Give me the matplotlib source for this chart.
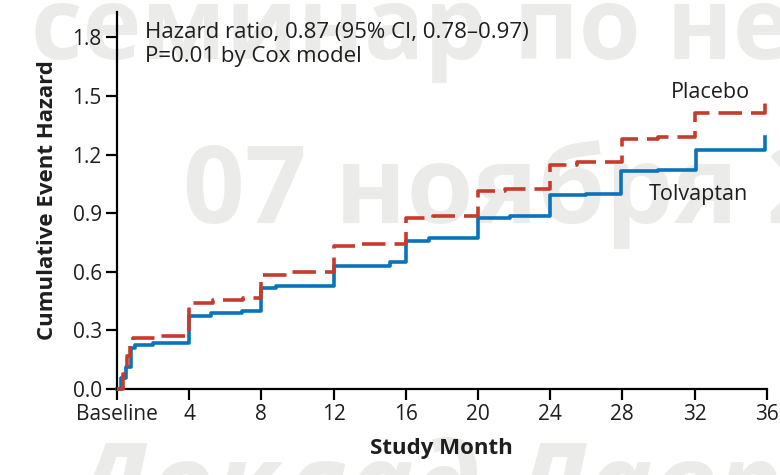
import matplotlib
matplotlib.use("Agg")
import matplotlib.pyplot as plt

# cumulative hazard steps
placebo_t = [0, 0.35, 0.55, 0.7, 0.9, 2.2, 4.0, 5.3, 7.0, 8.0, 9.6, 12.0, 13.6,
             16.0, 17.5, 20.0, 21.5, 24.0, 25.5, 28.0, 30.0, 32.0, 35.9]
placebo_v = [0, 0.075, 0.17, 0.245, 0.262, 0.27, 0.44, 0.455, 0.465, 0.585, 0.60, 0.73, 0.74,
             0.875, 0.885, 1.015, 1.025, 1.145, 1.16, 1.28, 1.29, 1.415, 1.49]

tolvaptan_t = [0, 0.2, 0.5, 0.8, 1.0, 2.0, 4.0, 5.2, 6.9, 8.0, 8.8, 12.0, 15.1,
               16.0, 17.3, 20.0, 21.8, 24.0, 26.0, 27.9, 30.0, 32.1, 35.9]
tolvaptan_v = [0, 0.055, 0.115, 0.21, 0.226, 0.237, 0.375, 0.39, 0.40, 0.516, 0.525, 0.63, 0.648,
               0.755, 0.774, 0.877, 0.887, 0.995, 1.0, 1.114, 1.12, 1.222, 1.29]

x_ticks = [0, 4, 8, 12, 16, 20, 24, 28, 32, 36]
x_labels = ["Baseline", "4", "8", "12", "16", "20", "24", "28", "32", "36"]
y_ticks = [0.0, 0.3, 0.6, 0.9, 1.2, 1.5, 1.8]

red = "#c63b2b"
blue = "#0b73bb"
ink = "#1e1e1e"
font = ["Open Sans", "DejaVu Sans"]

fig = plt.figure(figsize=(7.8, 4.75), dpi=100)
ax = fig.add_axes([0.15, 0.181, 0.833, 0.794])
ax.set_facecolor("none")

# faint watermark behind the chart
wm = dict(color="#ebebea", fontweight="bold", family=font, zorder=-1)
fig.text(0.04, 0.875, "семинар по неделе", fontsize=72, **wm)
fig.text(0.235, 0.53, "07 ноября 2013", fontsize=78, **wm)
fig.text(0.09, -0.10, "Доклад Лавров", fontsize=80, style="italic", **wm)

ax.plot(placebo_t, placebo_v, drawstyle="steps-post", color=red, lw=2.6,
        dashes=(6.5, 2.5), clip_on=False, zorder=3)
ax.plot(tolvaptan_t, tolvaptan_v, drawstyle="steps-post", color=blue, lw=2.6,
        clip_on=False, zorder=2)

ax.set_xlim(0, 36)
ax.set_ylim(0, 1.93)
ax.set_xticks(x_ticks)
ax.set_xticklabels(x_labels)
ax.set_yticks(y_ticks)
ax.set_yticklabels([f"{v:.1f}" for v in y_ticks])
ax.spines["top"].set_visible(False)
ax.spines["right"].set_visible(False)
for s in ("left", "bottom"):
    ax.spines[s].set_linewidth(1.6)
ax.tick_params(direction="out", length=8, width=1.6, labelsize=15, pad=3)
for lab in ax.get_xticklabels() + ax.get_yticklabels():
    lab.set_family(font)
    lab.set_color(ink)

ax.set_ylabel("Cumulative Event Hazard", fontsize=16, fontweight="bold",
              family=font, labelpad=10, color=ink)
ax.set_xlabel("Study Month", fontsize=16, fontweight="bold", family=font,
              labelpad=9, color=ink)

ax.text(1.55, 1.826, "Hazard ratio, 0.87 (95% CI, 0.78–0.97)", fontsize=16,
        family=font, va="center", color=ink)
ax.text(1.55, 1.70, "P=0.01 by Cox model", fontsize=16, family=font,
        va="center", color=ink)
ax.text(32.9, 1.518, "Placebo", fontsize=15.5, family=font, ha="center", va="center",
        color=ink)
ax.text(32.2, 0.995, "Tolvaptan", fontsize=15.5, family=font, ha="center", va="center",
        color=ink)

fig.savefig("out.png", dpi=100)
